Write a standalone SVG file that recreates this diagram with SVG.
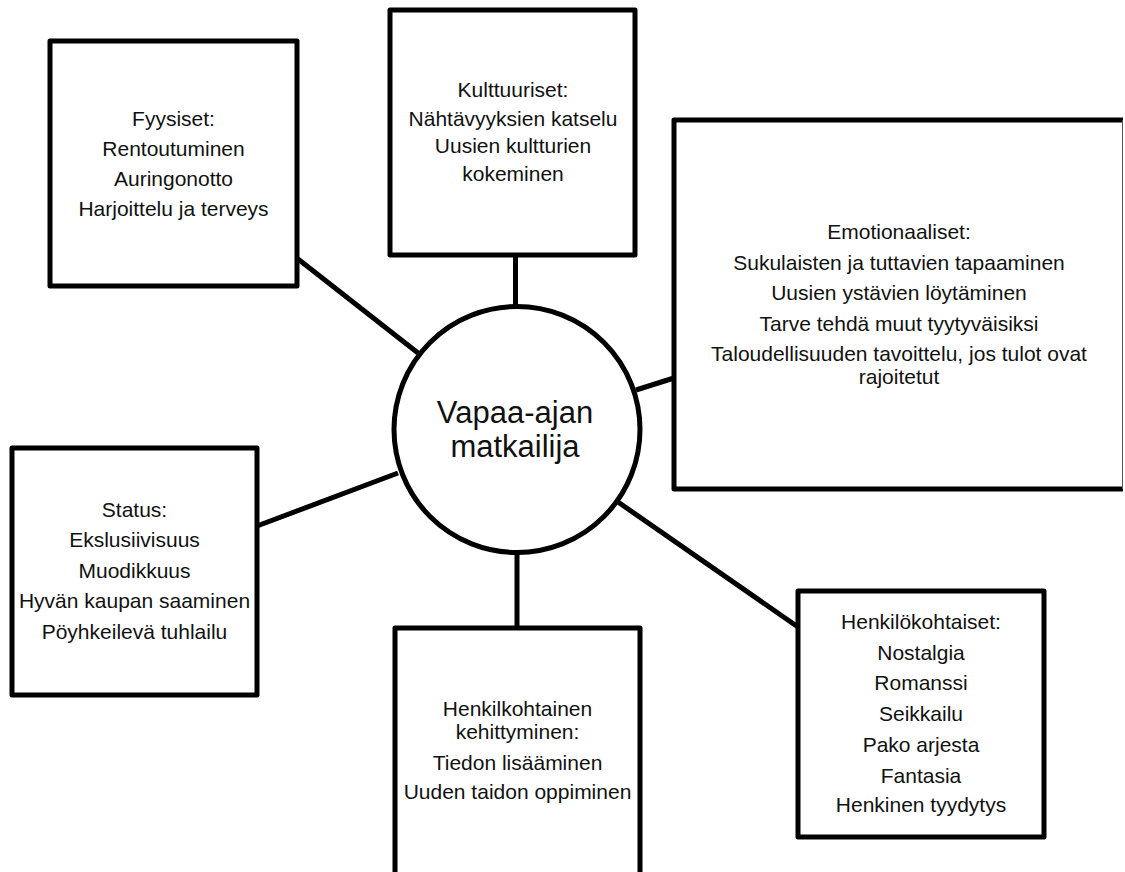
<svg xmlns="http://www.w3.org/2000/svg" width="1125" height="872" viewBox="0 0 1125 872">
  <style>
    .box { fill: #ffffff; stroke: #000000; stroke-width: 5; stroke-linejoin: round; }
    .link { stroke: #000000; stroke-width: 5; fill: none; }
    .hub { fill: #ffffff; stroke: #000000; stroke-width: 5; }
    text { font-family: "Liberation Sans", Arial, sans-serif; fill: #111111; text-anchor: middle; }
    .t { font-size: 21px; }
    .hubt { font-size: 31px; }
  </style>
  <rect width="1125" height="872" fill="#ffffff"/>

  <!-- spokes from the hub to each category -->
  <g id="connectors">
    <line class="link" x1="298" y1="259" x2="418" y2="353"/>
    <line class="link" x1="515.5" y1="255" x2="515.5" y2="307"/>
    <line class="link" x1="636" y1="390" x2="674" y2="378"/>
    <line class="link" x1="257" y1="526" x2="398" y2="473"/>
    <line class="link" x1="517" y1="552" x2="517" y2="628"/>
    <line class="link" x1="618" y1="502" x2="798" y2="627"/>
  </g>

  <g id="fyysiset">
    <rect class="box" x="50" y="41" width="247" height="245"/>
    <text class="t" x="173.5" y="126">Fyysiset:</text>
    <text class="t" x="173.5" y="156">Rentoutuminen</text>
    <text class="t" x="173.5" y="186">Auringonotto</text>
    <text class="t" x="173.5" y="216">Harjoittelu ja terveys</text>
  </g>

  <g id="kulttuuriset">
    <rect class="box" x="390" y="10" width="245" height="245"/>
    <text class="t" x="513" y="97">Kulttuuriset:</text>
    <text class="t" x="513" y="126">Nähtävyyksien katselu</text>
    <text class="t" x="513" y="153">Uusien kultturien</text>
    <text class="t" x="513" y="181">kokeminen</text>
  </g>

  <g id="emotionaaliset">
    <path class="box" d="M1123 120 H674 V489 H1123"/>
    <line x1="1122.5" y1="120" x2="1122.5" y2="489" stroke="#555555" stroke-width="1"/>
    <text class="t" x="899" y="239">Emotionaaliset:</text>
    <text class="t" x="899" y="270">Sukulaisten ja tuttavien tapaaminen</text>
    <text class="t" x="899" y="300">Uusien ystävien löytäminen</text>
    <text class="t" x="899" y="331">Tarve tehdä muut tyytyväisiksi</text>
    <text class="t" x="899" y="361">Taloudellisuuden tavoittelu, jos tulot ovat</text>
    <text class="t" x="899" y="384">rajoitetut</text>
  </g>

  <g id="status">
    <rect class="box" x="12" y="448" width="245" height="247"/>
    <text class="t" x="134.5" y="517">Status:</text>
    <text class="t" x="134.5" y="547">Ekslusiivisuus</text>
    <text class="t" x="134.5" y="578">Muodikkuus</text>
    <text class="t" x="134.5" y="608">Hyvän kaupan saaminen</text>
    <text class="t" x="134.5" y="639">Pöyhkeilevä tuhlailu</text>
  </g>

  <g id="kehittyminen">
    <rect class="box" x="395" y="628" width="245" height="260"/>
    <text class="t" x="517.5" y="716">Henkilkohtainen</text>
    <text class="t" x="517.5" y="739">kehittyminen:</text>
    <text class="t" x="517.5" y="770">Tiedon lisääminen</text>
    <text class="t" x="517.5" y="799">Uuden taidon oppiminen</text>
  </g>

  <g id="henkilokohtaiset">
    <rect class="box" x="798" y="591" width="246" height="246"/>
    <text class="t" x="921" y="629">Henkilökohtaiset:</text>
    <text class="t" x="921" y="660">Nostalgia</text>
    <text class="t" x="921" y="690">Romanssi</text>
    <text class="t" x="921" y="721">Seikkailu</text>
    <text class="t" x="921" y="752">Pako arjesta</text>
    <text class="t" x="921" y="783">Fantasia</text>
    <text class="t" x="921" y="812">Henkinen tyydytys</text>
  </g>

  <g id="hub">
    <circle class="hub" cx="517" cy="429.5" r="123"/>
    <text class="hubt" x="515" y="423">Vapaa-ajan</text>
    <text class="hubt" x="515" y="457">matkailija</text>
  </g>
</svg>
